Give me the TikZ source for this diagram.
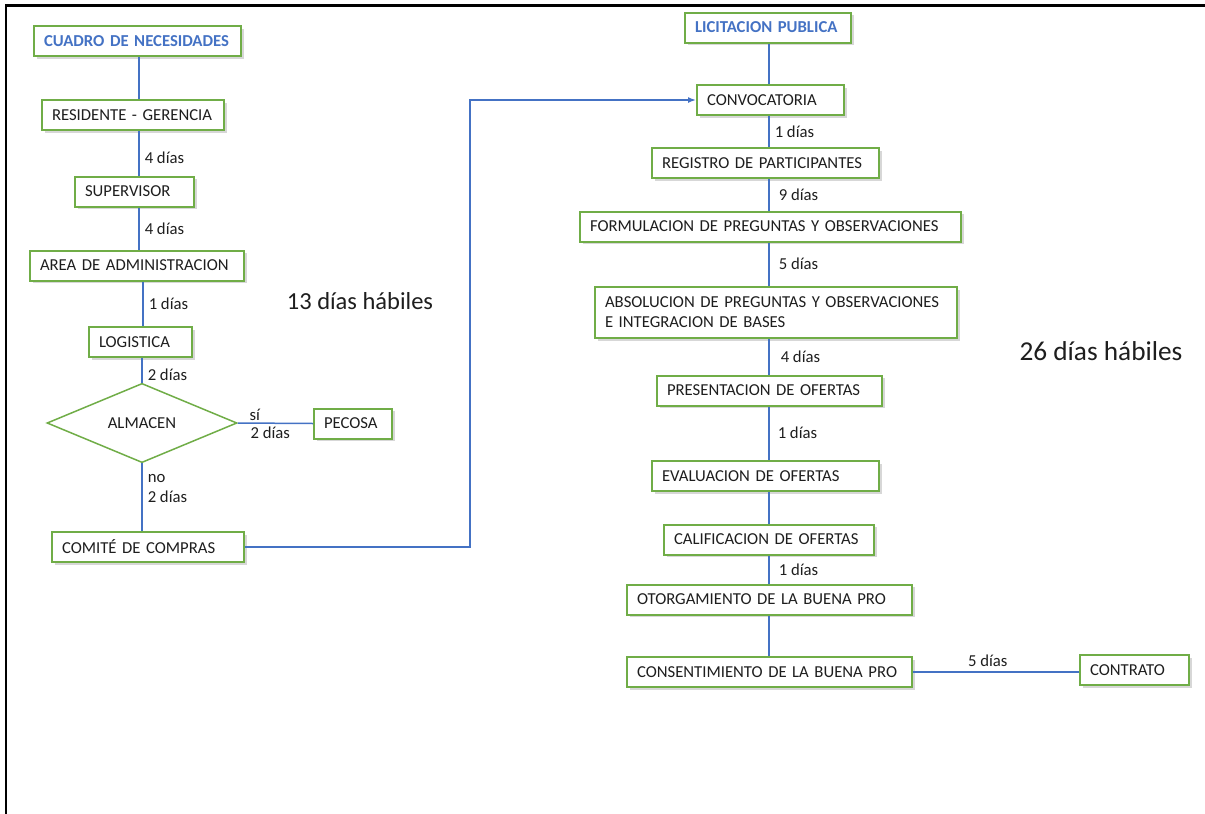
\documentclass[tikz,border=0pt]{standalone}
\usepackage{fontspec}
\setmainfont{Carlito}
\usepackage{tikz}
\usetikzlibrary{shapes.geometric,arrows.meta,shadows}
\definecolor{boxgreen}{HTML}{70AD47}
\definecolor{lineblue}{HTML}{4472C4}
\definecolor{txtgray}{HTML}{1E1E1E}

\begin{document}
\begin{tikzpicture}[
    x=1pt, y=-1pt,
    every node/.style={font=\fontsize{16.7}{20}\selectfont, text=txtgray},
    caja/.style={rectangle, draw=boxgreen, line width=2pt, fill=white, inner xsep=10pt, inner ysep=2pt, minimum height=30pt, align=left, drop shadow={shadow xshift=2.5pt, shadow yshift=-2.5pt, fill=black!45, opacity=0.35}},
    titulo/.style={caja, text=lineblue, font=\fontsize{16.7}{20}\selectfont\bfseries},
    rombo/.style={diamond, draw=boxgreen, line width=1.5pt, fill=white, inner sep=0pt, minimum width=190pt, minimum height=60pt},
    link/.style={draw=lineblue, line width=1.5pt},
    arrow/.style={link, -{Latex[length=8pt, width=6pt]}},
    lbl/.style={inner sep=5pt},
    total/.style={font=\fontsize{24.5}{28}\selectfont}
]
    \useasboundingbox (0,0) rectangle (1205,814);
    \draw[line width=2.5pt] (1205,5.5) -- (6,5.5) -- (6,814);

    \coordinate (la) at (139,0);
    \coordinate (lb) at (143,0);
    \coordinate (rs) at (769,0);
    \coordinate (codo) at (470,0);

    \node[titulo, text width=187pt] (cuadro) at (137.5,41) {CUADRO DE NECESIDADES};
    \node[caja, text width=162pt] (resid) at (133,115) {RESIDENTE - GERENCIA};
    \node[caja, text width=99pt] (sup) at (134.5,191.5) {SUPERVISOR};
    \node[caja, text width=194pt] (area) at (137,265.5) {AREA DE ADMINISTRACION};
    \node[caja, text width=83pt] (logist) at (140.5,342) {LOGISTICA};
    \node[rombo] (alm) at (142,423) {ALMACEN};
    \node[caja, text width=58pt] (pecosa) at (353,423.5) {PECOSA};
    \node[caja, text width=172pt] (comite) at (148,547) {COMITÉ DE COMPRAS};

    \node[titulo, text width=146pt] (licit) at (768,27.5) {LICITACION PUBLICA};
    \node[caja, text width=127pt] (conv) at (770.5,100) {CONVOCATORIA};
    \node[caja, text width=207pt] (reg) at (765.5,163) {REGISTRO DE PARTICIPANTES};
    \node[caja, text width=361pt] (form) at (770.5,226.5) {FORMULACION DE PREGUNTAS Y OBSERVACIONES};
    \node[caja, text width=342pt, minimum height=51pt] (abs) at (776,312.5) {ABSOLUCION DE PREGUNTAS Y OBSERVACIONES\\E INTEGRACION DE BASES};
    \node[caja, text width=205pt] (pres) at (769.5,390.5) {PRESENTACION DE OFERTAS};
    \node[caja, text width=207pt] (eval) at (765.5,476) {EVALUACION DE OFERTAS};
    \node[caja, text width=190pt] (calif) at (769,539.5) {CALIFICACION DE OFERTAS};
    \node[caja, text width=265pt] (otor) at (769.5,599.5) {OTORGAMIENTO DE LA BUENA PRO};
    \node[caja, text width=265pt] (cons) at (769.5,672) {CONSENTIMIENTO DE LA BUENA PRO};
    \node[caja, text width=89pt] (contr) at (1134.5,670) {CONTRATO};

    \node[total, anchor=base] (t13) at (360,309) {13 días hábiles};
    \node[total, font=\fontsize{27.3}{32}\selectfont, anchor=base] (t26) at (1101,360) {26 días hábiles};

    \draw[link] (cuadro.south -| la) -- (resid.north -| la);
    \draw[link] (resid.south -| la) -- node[lbl, right, pos=0.6] {4 días} (sup.north -| la);
    \draw[link] (sup.south -| la) -- node[lbl, right] {4 días} (area.north -| la);
    \draw[link] (area.south -| lb) -- node[lbl, right] {1 días} (logist.north -| lb);
    \draw[link] (logist.south -| alm.north) -- node[lbl, right, pos=0.7] {2 días} (alm.north);
    \draw[link] (alm.south) -- node[pos=0.22, lbl, right] {no} node[pos=0.5, lbl, right] {2 días} (comite.north -| alm.south);
    \draw[link] (alm.east) -- node[pos=0.12, inner sep=2pt, above right] {sí} node[pos=0.12, inner sep=3pt, below right] {2 días} (pecosa.west);
    \draw[arrow] (comite.east) -- (comite.east -| codo) |- (conv.west);

    \draw[link] (licit.south -| rs) -- (conv.north -| rs);
    \draw[link] (conv.south -| rs) -- node[lbl, right] {1 días} (reg.north -| rs);
    \draw[link] (reg.south -| rs) -- node[lbl, right, xshift=4pt] {9 días} (form.north -| rs);
    \draw[link] (form.south -| rs) -- node[lbl, right, xshift=4pt] {5 días} (abs.north -| rs);
    \draw[link] (abs.south -| rs) -- node[lbl, right, xshift=6pt] {4 días} (pres.north -| rs);
    \draw[link] (pres.south -| rs) -- node[lbl, right, xshift=3pt] {1 días} (eval.north -| rs);
    \draw[link] (eval.south -| rs) -- (calif.north -| rs);
    \draw[link] (calif.south -| rs) -- node[lbl, right, xshift=4pt] {1 días} (otor.north -| rs);
    \draw[link] (otor.south -| rs) -- (cons.north -| rs);
    \draw[link] (cons.east) -- node[lbl, above, pos=0.45] {5 días} (cons.east -| contr.west);
\end{tikzpicture}
\end{document}
